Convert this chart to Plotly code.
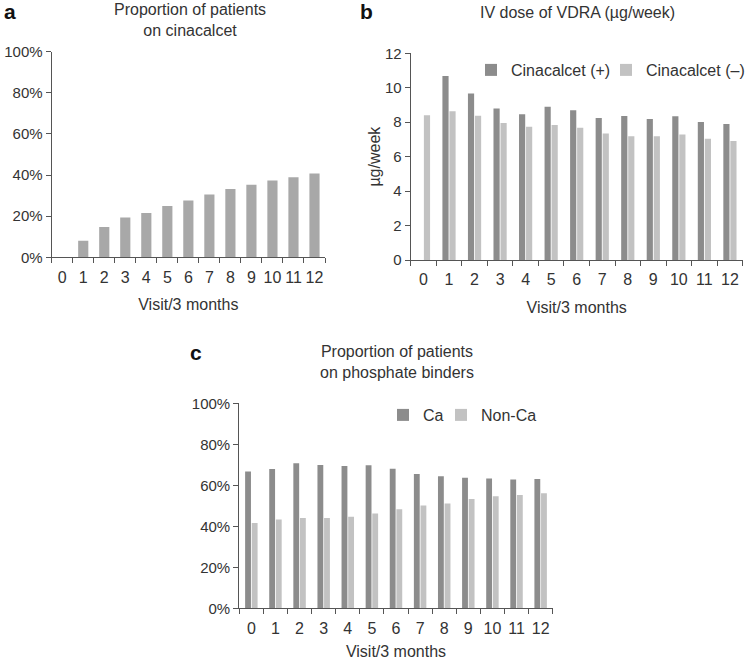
import plotly.graph_objects as go

visits = [str(i) for i in range(13)]

# Panel a: proportion on cinacalcet (%)
cinacalcet_pct = [0, 8.1, 14.7, 19.3, 21.6, 25.0, 27.6, 30.5, 33.2, 35.3, 37.3, 38.9, 40.8]

# Panel b: IV dose of VDRA (µg/week)
vdra_cin_pos = [None, 10.68, 9.66, 8.79, 8.46, 8.90, 8.69, 8.24, 8.36, 8.19, 8.34, 8.01, 7.90]
vdra_cin_neg = [8.40, 8.63, 8.38, 7.95, 7.74, 7.84, 7.68, 7.35, 7.18, 7.18, 7.28, 7.04, 6.91]

# Panel c: phosphate binders (%)
binder_ca = [66.7, 68.0, 70.7, 69.9, 69.4, 69.8, 68.1, 65.5, 64.4, 63.7, 63.3, 62.8, 63.1]
binder_nonca = [41.6, 43.3, 44.1, 44.1, 44.6, 46.3, 48.3, 50.1, 51.1, 53.3, 54.6, 55.3, 56.1]

pct_vals = [0, 20, 40, 60, 80, 100]
pct_text = ["0%", "20%", "40%", "60%", "80%", "100%"]

DARK = "#8c8c8c"
LIGHT = "#c2c2c2"
MID = "#a8a8a8"
TXT = "#333333"
AX = "#555555"
FONT = "Liberation Sans, Arial, sans-serif"

W, H = 746, 660

def px_x(x):
    return x / W

def px_y(y):
    return 1 - y / H

fig = go.Figure()

fig.add_trace(go.Bar(x=visits, y=cinacalcet_pct, marker_color=MID, xaxis="x", yaxis="y",
                     showlegend=False, marker_line_width=0))
fig.add_trace(go.Bar(x=visits, y=vdra_cin_pos, name="Cinacalcet (+)", marker_color=DARK,
                     xaxis="x2", yaxis="y2", legend="legend", marker_line_width=0))
fig.add_trace(go.Bar(x=visits, y=vdra_cin_neg, name="Cinacalcet (\u2013)", marker_color=LIGHT,
                     xaxis="x2", yaxis="y2", legend="legend2", marker_line_width=0))
fig.add_trace(go.Bar(x=visits, y=binder_ca, name="Ca", marker_color=DARK,
                     xaxis="x3", yaxis="y3", legend="legend3", marker_line_width=0))
fig.add_trace(go.Bar(x=visits, y=binder_nonca, name="Non-Ca", marker_color=LIGHT,
                     xaxis="x3", yaxis="y3", legend="legend4", marker_line_width=0))

xcommon = dict(type="category", showline=True, linecolor=AX, linewidth=1.2,
               ticks="outside", tickson="boundaries", ticklen=5, tickcolor=AX, tickangle=0,
               tickmode="linear", dtick=1, ticklabelstandoff=5,
               showgrid=False, zeroline=False, tickfont=dict(size=16, color=TXT),
               title_font=dict(size=16, color=TXT), title_standoff=14)
ycommon = dict(showline=True, linecolor=AX, linewidth=1.2, ticks="outside", ticklen=5,
               tickcolor=AX, showgrid=False, zeroline=False,
               tickfont=dict(size=15, color=TXT), title_font=dict(size=16, color=TXT))

def leg(xpx, ypx):
    return dict(orientation="h", x=px_x(xpx), y=px_y(ypx), xanchor="left", yanchor="middle",
                font=dict(size=16, color=TXT), bgcolor="rgba(0,0,0,0)", itemwidth=30)

fig.update_layout(
    width=W, height=H, margin=dict(l=0, r=0, t=0, b=0, autoexpand=False),
    paper_bgcolor="white", plot_bgcolor="white",
    font=dict(family=FONT, color=TXT),
    barmode="group", bargap=0.45, bargroupgap=0.12,
    xaxis=dict(xcommon, domain=[px_x(51.7), px_x(325)], anchor="y",
               title_text="Visit/3 months"),
    yaxis=dict(ycommon, domain=[px_y(257.3), px_y(51.7)], anchor="x", range=[0, 100],
               tickvals=pct_vals, ticktext=pct_text),
    xaxis2=dict(xcommon, domain=[px_x(410.7), px_x(742.7)], anchor="y2",
                title_text="Visit/3 months"),
    yaxis2=dict(ycommon, domain=[px_y(260), px_y(53.3)], anchor="x2", range=[0, 12],
                dtick=2, title_text="\u00b5g/week", title_standoff=0),
    xaxis3=dict(xcommon, domain=[px_x(239.3), px_x(552.7)], anchor="y3",
                title_text="Visit/3 months", title_standoff=10),
    yaxis3=dict(ycommon, domain=[px_y(608.3), px_y(403.3)], anchor="x3", range=[0, 100],
                tickvals=pct_vals, ticktext=pct_text),
    legend=leg(471, 70),
    legend2=leg(606, 70),
    legend3=leg(383, 415),
    legend4=leg(441, 415),
)

annots = [
    dict(text="<b>a</b>", x=px_x(2), y=px_y(11), xanchor="left", yanchor="middle", font=dict(size=21, color="#111")),
    dict(text="<b>b</b>", x=px_x(358), y=px_y(11), xanchor="left", yanchor="middle", font=dict(size=21, color="#111")),
    dict(text="<b>c</b>", x=px_x(188), y=px_y(353), xanchor="left", yanchor="middle", font=dict(size=21, color="#111")),
    dict(text="Proportion of patients<br>on cinacalcet", x=px_x(190), y=px_y(20), xanchor="center",
         yanchor="middle", font=dict(size=16, color=TXT)),
    dict(text="IV dose of VDRA (\u00b5g/week)", x=px_x(577), y=px_y(12), xanchor="center",
         yanchor="middle", font=dict(size=16, color=TXT)),
    dict(text="Proportion of patients<br>on phosphate binders", x=px_x(397), y=px_y(362), xanchor="center",
         yanchor="middle", font=dict(size=16, color=TXT)),
]
for a in annots:
    a.update(xref="paper", yref="paper", showarrow=False)
fig.update_layout(annotations=annots)

# remove the browser's default 8px page margin so the figure sits at (0, 0)
fig.write_html("out.html", config={"displayModeBar": False},
               post_script="document.body.style.margin='0';document.body.style.overflow='hidden';")
